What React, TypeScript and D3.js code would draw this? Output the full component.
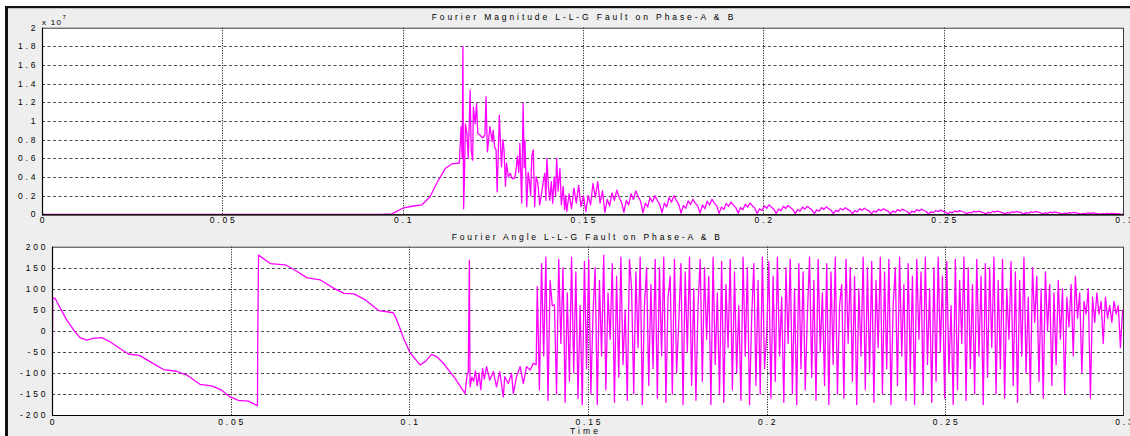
import React from "react";
import * as d3 from "d3";

// ---------- axis ticks ----------
const X_TICKS = [0, 0.05, 0.1, 0.15, 0.2, 0.25, 0.3];
const X_TICK_LABELS = ["0", "0.05", "0.1", "0.15", "0.2", "0.25", "0.3"];
const MAG_TICKS = [0, 0.2, 0.4, 0.6, 0.8, 1, 1.2, 1.4, 1.6, 1.8, 2];
const MAG_TICK_LABELS = ["0", "0.2", "0.4", "0.6", "0.8", "1", "1.2", "1.4", "1.6", "1.8", "2"];
const ANG_TICKS = [-200, -150, -100, -50, 0, 50, 100, 150, 200];
const ANG_TICK_LABELS = ["-200", "-150", "-100", "-50", "0", "50", "100", "150", "200"];

const TITLE_MAG = "Fourier Magnitude L-L-G Fault on Phase-A & B";
const TITLE_ANG = "Fourier Angle L-L-G Fault on Phase-A & B";
const X_LABEL = "Time";

// ---------- magnitude (x 10^7) ----------
const MAG_HEAD_T = [0, 0.094, 0.097, 0.1, 0.103, 0.1053, 0.1076, 0.1094, 0.1118, 0.1136, 0.1157, 0.1162, 0.1165, 0.1167, 0.1169, 0.1171, 0.1174, 0.1178, 0.1182, 0.1187, 0.119, 0.1194, 0.1196, 0.1201, 0.1205, 0.1208, 0.1214, 0.1222, 0.1228, 0.1231, 0.1235, 0.1242, 0.1248, 0.1251, 0.1255, 0.1259, 0.1262, 0.1268, 0.1274, 0.1278, 0.1281, 0.1285, 0.1288, 0.1293, 0.1298, 0.1304, 0.1311, 0.1315, 0.1318, 0.1322, 0.1325, 0.133, 0.1334, 0.1337, 0.1339, 0.1344, 0.1348, 0.1351, 0.1355, 0.1358, 0.1362, 0.1366, 0.137, 0.1375, 0.138, 0.1385, 0.139, 0.1394, 0.1397, 0.14, 0.1404, 0.1408, 0.1412, 0.1416, 0.142, 0.1424, 0.1427, 0.1431, 0.1436, 0.144, 0.1445, 0.1449, 0.1452];
const MAG_HEAD_V = [0, 0, 0.005, 0.065, 0.089, 0.1, 0.189, 0.33, 0.49, 0.54, 0.55, 0.94, 0.6, 1.8, 0.06, 0.33, 0.97, 0.87, 0.6, 1.33, 0.69, 0.58, 1.15, 0.97, 1.19, 0.87, 0.85, 0.82, 0.85, 1.26, 0.67, 0.94, 0.78, 0.9, 0.72, 0.69, 0.24, 1.06, 0.51, 0.8, 0.69, 0.3, 0.55, 0.4, 0.44, 0.38, 0.39, 0.5, 0.62, 0.45, 0.76, 0.12, 1.19, 0.5, 0.79, 0.08, 0.45, 0.37, 0.2, 0.62, 0.69, 0.08, 0.4, 0.33, 0.1, 0.22, 0.35, 0.44, 0.15, 0.6, 0.3, 0.15, 0.35, 0.12, 0.4, 0.2, 0.6, 0.25, 0.49, 0.1, 0.3, 0.05, 0.2];
const MAG_TAIL_START = 0.1455;
const MAG_TAIL_STEP = 0.00066;
const MAG_TAIL_V = [
  0.03, 0.22, 0.06, 0.28, 0.12, 0.31, 0.08, 0.2,
  0.03, 0.2, 0.1, 0.33, 0.18, 0.35, 0.12, 0.25,
  0.02, 0.16, 0.09, 0.23, 0.15, 0.26, 0.18, 0.13,
  0.02, 0.15, 0.1, 0.22, 0.16, 0.25, 0.19, 0.14,
  0.016, 0.12, 0.08, 0.18, 0.13, 0.2, 0.15, 0.11,
  0.016, 0.12, 0.08, 0.18, 0.13, 0.2, 0.15, 0.11,
  0.013, 0.096, 0.064, 0.144, 0.104, 0.16, 0.12, 0.088,
  0.013, 0.1, 0.06, 0.14, 0.1, 0.16, 0.12, 0.09,
  0.01, 0.078, 0.052, 0.117, 0.085, 0.13, 0.098, 0.072,
  0.01, 0.072, 0.048, 0.108, 0.078, 0.12, 0.09, 0.066,
  0.008, 0.06, 0.04, 0.09, 0.065, 0.1, 0.075, 0.055,
  0.008, 0.057, 0.038, 0.086, 0.062, 0.095, 0.071, 0.052,
  0.007, 0.051, 0.034, 0.077, 0.055, 0.085, 0.064, 0.047,
  0.006, 0.048, 0.032, 0.072, 0.052, 0.08, 0.06, 0.044,
  0.006, 0.042, 0.028, 0.063, 0.046, 0.07, 0.053, 0.039,
  0.005, 0.039, 0.026, 0.059, 0.042, 0.065, 0.049, 0.036,
  0.005, 0.036, 0.024, 0.054, 0.039, 0.06, 0.045, 0.033,
  0.004, 0.033, 0.022, 0.05, 0.036, 0.055, 0.041, 0.03,
  0.004, 0.033, 0.022, 0.05, 0.036, 0.055, 0.041, 0.03,
  0.004, 0.027, 0.018, 0.041, 0.029, 0.045, 0.034, 0.025,
  0.003, 0.024, 0.016, 0.036, 0.026, 0.04, 0.03, 0.022,
  0.003, 0.021, 0.014, 0.032, 0.023, 0.035, 0.026, 0.019,
  0.003, 0.021, 0.014, 0.032, 0.023, 0.035, 0.026, 0.019,
  0.002, 0.018, 0.012, 0.027, 0.02, 0.03, 0.023, 0.017,
  0.002, 0.018, 0.012, 0.027, 0.02, 0.03, 0.023, 0.017,
  0.002, 0.015, 0.01, 0.023, 0.016, 0.025, 0.019, 0.014,
  0.002, 0.012, 0.008, 0.018, 0.013, 0.02, 0.015, 0.011,
  0.001, 0.009, 0.006, 0.014, 0.01, 0.015, 0.011, 0.008,
  0.001, 0.006, 0.004, 0.009, 0.007, 0.01, 0.008, 0.006,
];
const MAG_END_T = [0.2990, 0.3];
const MAG_END_V = [0.002, 0];

// ---------- angle (degrees) ----------
const ANG_HEAD_T = [0, 0.0001, 0.0002, 0.0008, 0.0041, 0.0064, 0.0078, 0.0097, 0.0115, 0.0139, 0.0162, 0.019, 0.0214, 0.0246, 0.0274, 0.0312, 0.0349, 0.0377, 0.0414, 0.0447, 0.0475, 0.0498, 0.0522, 0.055, 0.0575, 0.0576, 0.0578, 0.0611, 0.0653, 0.0686, 0.0714, 0.0751, 0.0789, 0.0817, 0.0845, 0.0878, 0.0915, 0.0955, 0.0965, 0.0985, 0.1002, 0.103, 0.1046, 0.1062, 0.1078, 0.1095, 0.1128, 0.1156, 0.1162, 0.1165, 0.1168, 0.117, 0.1175, 0.118, 0.1185, 0.119, 0.1195, 0.12, 0.1205, 0.121, 0.1216, 0.1225, 0.1235, 0.1244, 0.1253, 0.1263, 0.1267, 0.1277, 0.1286, 0.1291, 0.13, 0.131, 0.1319, 0.1328, 0.1338, 0.1347, 0.1355];
const ANG_HEAD_V = [0, -90, 77, 78, 26, -2, -16, -22, -18, -16, -26, -42, -55, -59, -73, -92, -96, -105, -127, -131, -141, -157, -165, -167, -178, 0, 180, 160, 157, 141, 126, 121, 101, 89, 88, 73, 48, 43, 26, -20, -52, -81, -72, -56, -62, -77, -113, -149, -101, -101, 168, -133, -110, -120, -95, -130, -100, -140, -90, -115, -85, -117, -97, -133, -97, -157, -109, -125, -101, -149, -109, -85, -125, -85, -93, -77, -81];
const ANG_TAIL_START = 0.1358;
const ANG_TAIL_STEP = 0.0006;
const ANG_TAIL_V = [
  105, -140, 160, -60, 175, -165, 120, 60, 62, -150, 170, -30, 150, -170, 90, -120, 175, -100, 140, -160, 60, -175, 165, -90,
  170, -150, 40, 150, -175, 120, -60, 180, -140, 90, -20, 160, -170, 130, -110, 175, -80, 50, -165, 170, 100, -150, 140, -40, 175, -175, 60, 150, -130, 110, -90, 170, -160,
  150, -60, 175, -170, 80, 130, -150, 170, -100, 20, 160, -175, 140, -50, 175, -130, 100, -165, 60, 170, -120, 150, -20, 130, -175, 175, -80, 90, -150, 165, -170, 110, -40, 170, -140, 140, -100, 60, -165, 175, -60, 150, -175, 30, 160, -130, 120, -150, 175, -90,
  -10, 165, -160, 130, -120, 175, -60, 80, -170, 150, -30, 170, -150, 100, -175, 160, -90, 140, -140, 40, 175, -110, 120, -165, 170, -50, 90, -130, 160, -175, 140, -80, 175, -150, 60, 110, -160, 170, -30, 150, -120, 130, -175, 100, -60, 175, -140, 150, -100, 165,
  -170, 120, -40, 175, -150, 140, -90, 170, -175, 60, 150, -130, 175, -60, 110, -165, 160, -100, 130, -175, 170, -20, 140, -150, 175, -80, 100, -170, 150, -120, 175, -50, 130, -160, 165, -100, 60, -175, 170, -140, 120, -30, 175, -165, 150, -90, 110, -150, 170, -60,
  130, -175, 160, -110, 150, -40, 175, -150, 120, -90, 170, -160, 100, -20, 165, -130, 140, -170, 120, -60, 175, -100, 80, -150, 150, 20, 130, -120, 100, -160, 140, 0, 110,
  -130, 90, -80, 120, -20, 100, -150, 80, 10, 110, -60, 130, 30, 90, -100, 70, 40, 100, -160, 80, 20, 90, 40, 70, -30, 80, 30, 60, 20, 70, 40, 60, -40, 50,
];

type Pt = [number, number];

const magSeries: Pt[] = [
  ...MAG_HEAD_T.map((t, i) => [t, MAG_HEAD_V[i]] as Pt),
  ...MAG_TAIL_V.map((v, i) => [MAG_TAIL_START + i * MAG_TAIL_STEP, v] as Pt),
  ...MAG_END_T.map((t, i) => [t, MAG_END_V[i]] as Pt),
];
const angSeries: Pt[] = [
  ...ANG_HEAD_T.map((t, i) => [t, ANG_HEAD_V[i]] as Pt),
  ...ANG_TAIL_V.map((v, i) => [ANG_TAIL_START + i * ANG_TAIL_STEP, v] as Pt),
];

const FONT = "'Liberation Sans', Arial, Helvetica, sans-serif";
const LS = 2.8; // letter spacing for tick labels
const LINE_COLOR = "#ff00ff";
const TEXT_COLOR = "#000";

interface PanelProps {
  id: string;
  left: number;
  right: number;
  top: number;
  bottom: number;
  yDomain: [number, number];
  yTicks: number[];
  yLabels: string[];
  data: Pt[];
  xLabelY: number;
  yLabelRight: number;
}

function Panel(p: PanelProps) {
  const x = d3.scaleLinear().domain([0, 0.3]).range([p.left, p.right]);
  const y = d3.scaleLinear().domain(p.yDomain).range([p.bottom, p.top]);
  const line = d3
    .line<Pt>()
    .x((d) => x(d[0]))
    .y((d) => y(d[1]));
  const W = p.right - p.left;
  const H = p.bottom - p.top;
  return (
    <g>
      <defs>
        <clipPath id={p.id}>
          <rect x={p.left} y={p.top - 1} width={W} height={H + 2} />
        </clipPath>
      </defs>
      <rect x={p.left} y={p.top} width={W} height={H} fill="#ffffff" />
      {p.yTicks.slice(1, -1).map((t) => (
        <line
          key={"hy" + t}
          x1={p.left}
          x2={p.right}
          y1={Math.round(y(t)) + 0.5}
          y2={Math.round(y(t)) + 0.5}
          stroke="#4a4a4a"
          strokeWidth={1}
          strokeDasharray="3,2.5"
        />
      ))}
      {X_TICKS.slice(1, -1).map((t) => (
        <line
          key={"vx" + t}
          x1={Math.round(x(t)) + 0.5}
          x2={Math.round(x(t)) + 0.5}
          y1={p.top}
          y2={p.bottom}
          stroke="#000"
          strokeWidth={1}
          strokeDasharray="1,1.5"
        />
      ))}
      <path
        d={line(p.data) || ""}
        fill="none"
        stroke={LINE_COLOR}
        strokeWidth={1.3}
        strokeLinejoin="round"
        clipPath={`url(#${p.id})`}
      />
      {/* box */}
      <rect
        x={p.left + 0.5}
        y={p.top + 0.5}
        width={W - 1}
        height={H}
        fill="none"
        stroke="#3a3a3a"
        strokeWidth={1}
      />
      <line x1={p.left + 0.5} x2={p.left + 0.5} y1={p.top} y2={p.bottom + 1} stroke="#000" strokeWidth={1.2} />
      <line x1={p.left} x2={p.right} y1={p.bottom + 0.5} y2={p.bottom + 0.5} stroke="#000" strokeWidth={1.2} />
      {/* y tick labels */}
      {p.yTicks.map((t, i) => (
        <text
          key={"yl" + t}
          x={p.yLabelRight + LS}
          y={y(t) + 3}
          fontSize={8.5}
          letterSpacing={LS}
          textAnchor="end"
          fontFamily={FONT}
          fill={TEXT_COLOR}
        >
          {p.yLabels[i]}
        </text>
      ))}
      {/* x tick labels */}
      {X_TICKS.map((t, i) => (
        <text
          key={"xl" + t}
          x={x(t) + LS / 2}
          y={p.xLabelY}
          fontSize={8.5}
          letterSpacing={LS}
          textAnchor="middle"
          fontFamily={FONT}
          fill={TEXT_COLOR}
        >
          {X_TICK_LABELS[i]}
        </text>
      ))}
    </g>
  );
}

export default function App() {
  return (
    <svg
      width={1130}
      height={436}
      style={{ position: "absolute", left: 0, top: 0, display: "block" }}
    >
      <rect x={0} y={0} width={1130} height={436} fill="#ffffff" />
      <rect x={8} y={8} width={1122} height={428} fill="#eeeeee" />
      <rect x={5} y={6} width={3} height={430} fill="#111" />
      <rect x={5} y={6} width={1125} height={2.2} fill="#111" />

      <Panel
        id="clipMag"
        left={42}
        right={1124}
        top={27.7}
        bottom={214.3}
        yDomain={[0, 2]}
        yTicks={MAG_TICKS}
        yLabels={MAG_TICK_LABELS}
        data={magSeries}
        xLabelY={223}
        yLabelRight={35.5}
      />
      <Panel
        id="clipAng"
        left={52}
        right={1124}
        top={246.7}
        bottom={415}
        yDomain={[-200, 200]}
        yTicks={ANG_TICKS}
        yLabels={ANG_TICK_LABELS}
        data={angSeries}
        xLabelY={424.8}
        yLabelRight={45.5}
      />

      <text x={431.7} y={19.5} fontSize={8.5} textLength={301.6} lengthAdjust="spacing" fontFamily={FONT} fill={TEXT_COLOR}>
        {TITLE_MAG}
      </text>
      <text x={451.7} y={239.5} fontSize={8.5} textLength={268.3} lengthAdjust="spacing" fontFamily={FONT} fill={TEXT_COLOR}>
        {TITLE_ANG}
      </text>
      <text x={570} y={434} fontSize={8.5} textLength={28} lengthAdjust="spacing" fontFamily={FONT} fill={TEXT_COLOR}>
        {X_LABEL}
      </text>
      <text x={42} y={24.5} fontSize={8} textLength={19} lengthAdjust="spacing" fontFamily={FONT} fill={TEXT_COLOR}>
        x 10
      </text>
      <text x={62.5} y={18.5} fontSize={6} fontFamily={FONT} fill={TEXT_COLOR}>
        7
      </text>
    </svg>
  );
}
